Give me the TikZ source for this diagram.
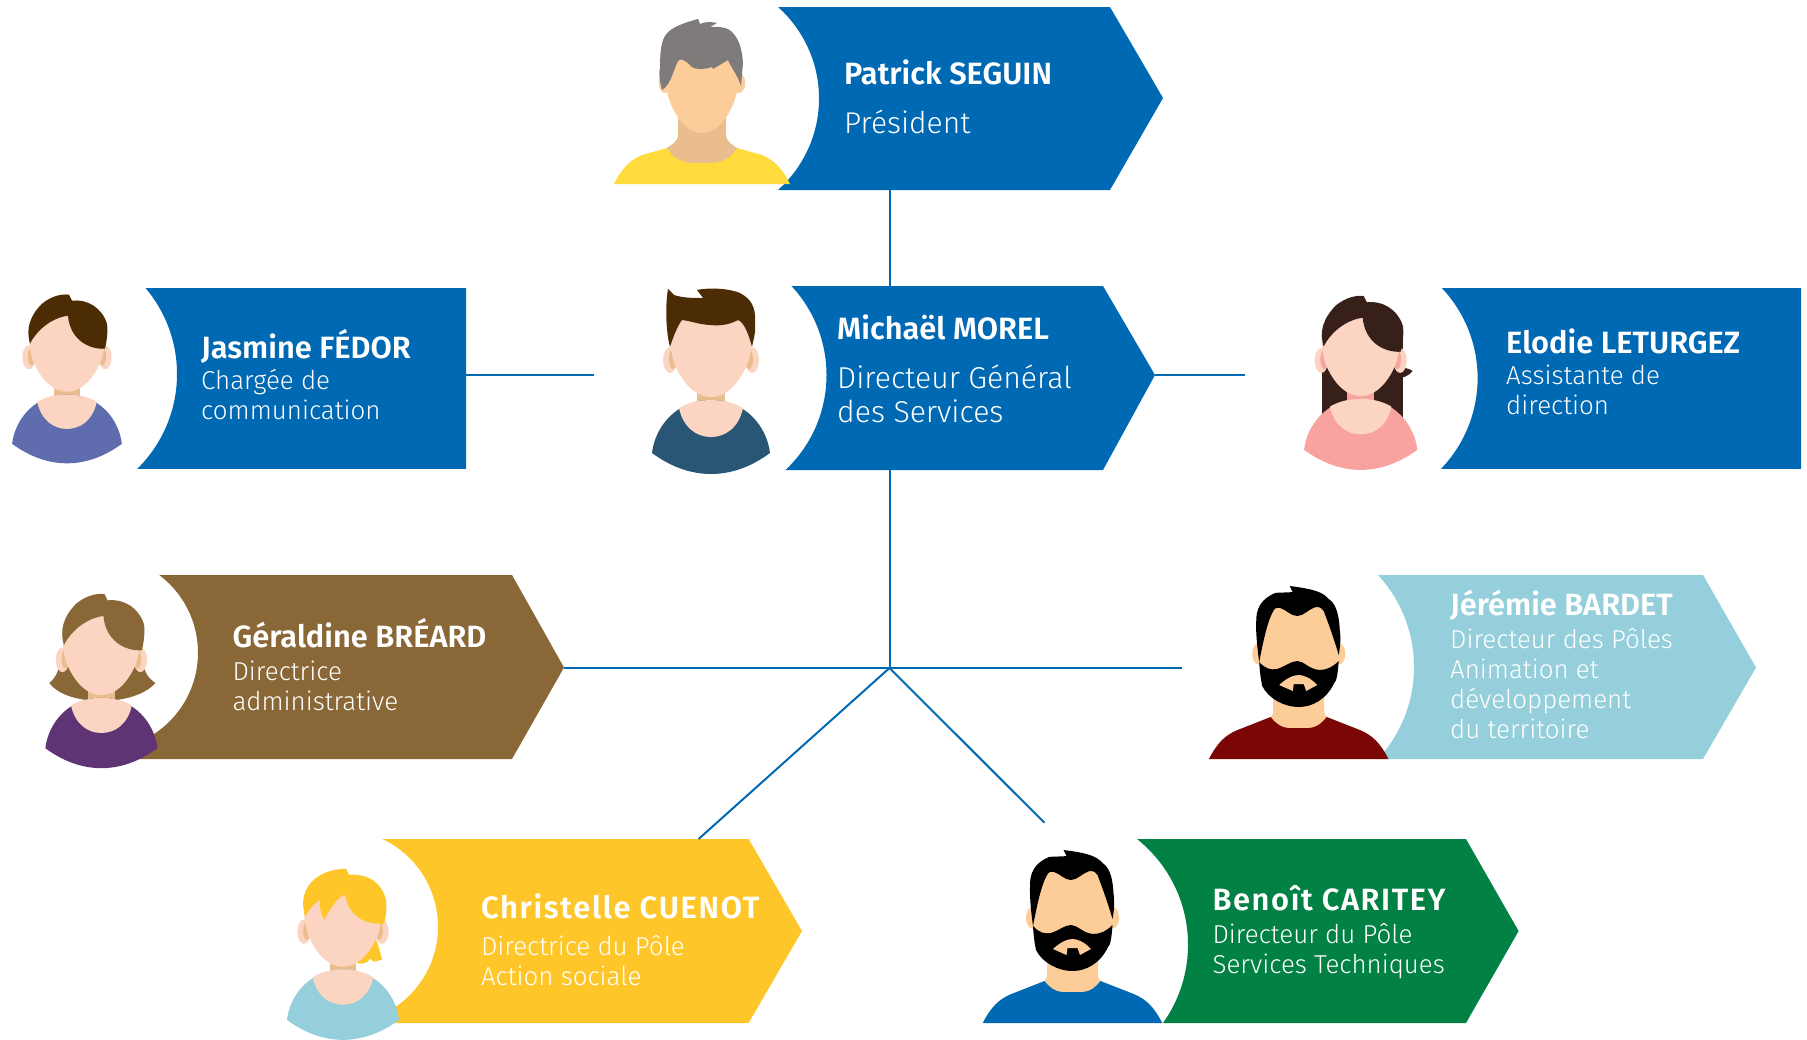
\documentclass[tikz,border=0pt]{standalone}
\usepackage{fontspec}
\setmainfont{Fira Sans}
\newfontfamily\namefam{Fira Sans SemiBold}
\newfontfamily\jobfam{Fira Sans Light}
\definecolor{corpblue}{HTML}{0069B4}
\definecolor{corpbrown}{HTML}{8A6737}
\definecolor{corpteal}{HTML}{95CFDB}
\definecolor{corpyellow}{HTML}{FFC629}
\definecolor{corpgreen}{HTML}{028145}
\definecolor{corpdark}{HTML}{2A5675}
\definecolor{skinpale}{HTML}{FBD5C1}
\definecolor{skintan}{HTML}{FCCD98}
\definecolor{shadetan}{HTML}{E9BD8E}
\definecolor{hairbrown}{HTML}{4B2C05}
\definecolor{hairdark}{HTML}{38201A}
\definecolor{hairgray}{HTML}{7F7B7A}
\definecolor{shirtblue}{HTML}{5F6DAE}
\definecolor{shirtpink}{HTML}{F9A3A0}
\definecolor{shirtplum}{HTML}{5F3474}
\definecolor{shirtred}{HTML}{7A0605}
\definecolor{shirtyellow}{HTML}{FFDB3B}
\tikzset{
  namelabel/.style={anchor=base west,inner sep=0,text=white,font=\namefam\fontsize{#1}{#1}\selectfont},
  namelabel/.default=30.8,
  joblabel/.style={anchor=base west,inner sep=0,text=white,font=\jobfam\fontsize{#1}{#1}\selectfont},
  joblabel/.default=25.9,
  link/.style={draw=corpblue,line width=2pt}
}
% head outline, chin at the origin
\newcommand\headpath{(0,0) .. controls (-18,0) and (-30,-18) .. (-36,-32) .. controls (-40,-42) and (-41,-55) .. (-41,-65) .. controls (-41,-85) and (-20,-92) .. (0,-92) .. controls (20,-92) and (41,-85) .. (41,-65) .. controls (41,-55) and (40,-42) .. (36,-32) .. controls (30,-18) and (18,0) .. (0,0) -- cycle}
% colour, polygon, centre and radius of the bite
\newcommand\tagbox[4]{%
  \begin{scope}
    \clip #2 -- cycle;
    \fill[#1,even odd rule] (0,0) rectangle (1807,1039) (#3) circle (#4);
  \end{scope}}
% colour, inner colour, height, half height
\newcommand\earpair[4]{%
  \foreach \s in {-1,1} {
    \fill[#1] (\s*41,#3) ellipse [x radius=7,y radius=#4];
    \fill[#2] (\s*38,#3-1) ellipse [x radius=4,y radius=#4-3];
  }}
% scale, shirt, skin, shade; origin at the chin
\newcommand\roundbust[4]{%
  \begin{scope}[scale=#1]
    \fill[#4] (-14,-12) rectangle (14,9);
    \fill[#2] (-59,56) .. controls (-56,30) and (-35,3) .. (0,3) .. controls (35,3) and (56,30) .. (59,56) .. controls (40,70) and (20,77) .. (0,77) .. controls (-20,77) and (-40,70) .. (-59,56) -- cycle;
    \fill[#3] (-32,11) .. controls (-28,30) and (-15,40) .. (0,40) .. controls (15,40) and (28,30) .. (32,11) .. controls (22,5) and (10,3) .. (0,3) .. controls (-10,3) and (-22,5) .. (-32,11) -- cycle;
    \earpair{#3}{#4}{-37}{13}
    \fill[#3] \headpath;
  \end{scope}}
% shirt, neck, neck half width, collar top, collar half width, collar bottom
\newcommand\widebust[6]{%
  \fill[#2] (-#3,-70) -- (#3,-70) -- (#3,-#4-14) .. controls (#3,-#4-5) and (#5-3,-#4-3) .. (#5,-#4) -- (#5,-#6) -- (-#5,-#6) -- (-#5,-#4) .. controls (-#5+3,-#4-3) and (-#3,-#4-5) .. (-#3,-#4-14) -- cycle;
  \fill[#1] (-88,0) .. controls (-80,-16) and (-72,-24) .. (-60,-29) -- (-#5,-#4) .. controls (-#5+10,-#6+2) and (-10,-#6) .. (0,-#6) .. controls (10,-#6) and (#5-10,-#6+2) .. (#5,-#4) -- (60,-29) .. controls (72,-24) and (80,-16) .. (88,0) -- cycle;
  }
% scope options, ear height, ear half height
\newcommand\shortface[3]{%
  \begin{scope}[#1]
    \earpair{skintan}{skintan}{#2}{#3}
    \fill[skintan] \headpath;
  \end{scope}}
\newcommand\beardhead{%
  \shortface{shift={(0,-50)},yscale=1.2,xscale=.97}{-46}{9}
  \fill[black] (-9,-173) -- (-6,-167) .. controls (-12,-166) and (-18,-167) .. (-23.5,-166) .. controls (-38,-160) and (-43,-150) .. (-42.5,-136) .. controls (-43,-125) and (-41,-108) .. (-39.5,-97) .. controls (-36,-115) and (-32,-135) .. (-26.5,-146) .. controls (-24,-152) and (-21,-152) .. (-18.5,-151) .. controls (-12,-149) and (-8,-143) .. (-1.5,-143) .. controls (5,-143) and (10,-150) .. (17,-152) .. controls (21,-152) and (24,-151) .. (25,-148) .. controls (30,-135) and (36,-118) .. (40,-104) .. controls (42,-115) and (42,-122) .. (41,-130) .. controls (40,-148) and (36,-156) .. (30,-160) .. controls (24,-167) and (15,-170) .. (-9,-173) -- cycle;
  \fill[black] (-39.5,-97) .. controls (-33,-90) and (-28,-89) .. (-22,-90) .. controls (-14,-92) and (-8,-98) .. (-1.5,-98) .. controls (5,-98) and (10,-90) .. (20.5,-89) .. controls (28,-89) and (34,-92) .. (40,-98) .. controls (39,-85) and (38,-78) .. (35.5,-76) .. controls (28,-60) and (14,-52) .. (0,-52) .. controls (-14,-52) and (-30,-60) .. (-36.5,-73) .. controls (-38,-80) and (-39,-88) .. (-39.5,-97) -- cycle;
  \fill[skintan] (-19.5,-74) .. controls (-12,-81) and (-5,-84) .. (0,-84) .. controls (5,-84) and (12,-81) .. (18.5,-74) -- (7.5,-68) -- (5,-75) -- (-5,-75) -- (-6,-68) -- cycle;
  }
% fringe shared by the short cuts, origin at the chin
\newcommand\fringepath{(-37,-48) .. controls (-41,-62) and (-38,-75) .. (-25,-88) .. controls (-15,-96) and (-5,-98) .. (2,-97) -- (5,-91) .. controls (20,-93) and (35,-84) .. (40,-68) .. controls (41,-60) and (40,-52) .. (38,-43) .. controls (22,-42) and (3,-52) .. (1,-76) .. controls (-15,-74) and (-30,-62) .. (-37,-48) -- cycle}

\begin{document}
\begin{tikzpicture}[x=1pt,y=-1pt]
  \useasboundingbox (0,0) rectangle (1807,1039);

  \tagbox{corpblue}{(730,7) -- (1110,7) -- (1163,98) -- (1110,190) -- (730,190)}{696.4,98.5}{122.6}
  \tagbox{corpblue}{(720,286) -- (1103,286) -- (1155,375) -- (1103,470) -- (720,470)}{696,375}{130.5}
  \tagbox{corpblue}{(80,288) -- (466,288) -- (466,468) -- (80,468)}{44,374}{133}
  \tagbox{corpblue}{(1400,288) -- (1801,288) -- (1801,468) -- (1400,468)}{1346.6,378}{131}
  \tagbox{corpbrown}{(120,575) -- (512,575) -- (564,667.5) -- (512,759) -- (120,759)}{100.8,652.7}{97.2}
  \tagbox{corpteal}{(1330,575) -- (1703,575) -- (1756,667.5) -- (1703,759) -- (1330,759)}{1278.5,667}{135.5}
  \tagbox{corpyellow}{(360,839) -- (748.6,839) -- (802,931) -- (748.6,1023) -- (360,1023)}{341,926.7}{97}
  \tagbox{corpgreen}{(1100,839) -- (1466,839) -- (1518.6,931) -- (1466,1023) -- (1100,1023)}{1053,944.7}{135}

  % connectors
  \coordinate (hub) at (889.5,668);
  \coordinate (patrick foot) at (890,190);
  \coordinate (morel head) at (890,286);
  \coordinate (morel foot) at (889.5,470);
  \coordinate (morel tip) at (1155,374.5);
  \coordinate (elodie end) at (1245,374.5);
  \coordinate (jasmine side) at (466,374.5);
  \coordinate (jasmine end) at (594,374.5);
  \coordinate (geraldine tip) at (564,668);
  \coordinate (jeremie end) at (1182,668);
  \coordinate (christelle top) at (698.6,839);
  \coordinate (benoit end) at (1044.4,822.7);
  \draw[link] (patrick foot) -- (morel head);
  \draw[link] (morel foot) -- (hub);
  \draw[link] (jasmine side) -- (jasmine end);
  \draw[link] (morel tip) -- (elodie end);
  \draw[link] (geraldine tip) -- (hub) -- (jeremie end);
  \draw[link] (christelle top) -- (hub) -- (benoit end);

  % Patrick
  \begin{scope}[shift={(702,184)}]
    \widebust{shirtyellow}{shadetan}{24}{36}{35}{21}
    \shortface{shift={(0,-51)},xscale=.9}{-50}{10}
    \fill[hairgray] (-4,-165) -- (-2,-160) .. controls (5,-163) and (10,-162) .. (15,-161) -- (8,-157) .. controls (20,-158) and (28,-155) .. (30,-152) .. controls (37,-145) and (40,-135) .. (41,-121) -- (39,-98) .. controls (36,-108) and (30,-115) .. (26,-124) -- (11,-115) -- (10,-117) .. controls (2,-114) and (-8,-115) .. (-10,-117) .. controls (-15,-122) and (-20,-126) .. (-23,-124) .. controls (-28,-118) and (-30,-100) .. (-40,-94) .. controls (-43,-105) and (-43,-112) .. (-42,-117) .. controls (-42,-130) and (-41,-138) .. (-39,-144) .. controls (-36,-152) and (-30,-158) .. (-4,-165) -- cycle;
  \end{scope}

  % Michael
  \begin{scope}[shift={(711,397)}]
    \roundbust{1}{corpdark}{skinpale}{shadetan}
    \fill[hairbrown] (-41,-50) .. controls (-45,-65) and (-46,-90) .. (-43,-108) -- (-37,-102) .. controls (-28,-99) and (-18,-99) .. (-8,-99) -- (-14,-107) .. controls (0,-110) and (20,-108) .. (29,-104) .. controls (40,-98) and (45,-90) .. (44,-75) .. controls (45,-65) and (43,-60) .. (41,-50) .. controls (38,-62) and (33,-75) .. (27,-77) .. controls (18,-72) and (8,-71) .. (0,-72) .. controls (-10,-72) and (-20,-76) .. (-29,-77) .. controls (-33,-72) and (-38,-60) .. (-41,-50) -- cycle;
  \end{scope}

  % Jasmine
  \begin{scope}[shift={(67,391.7)}]
    \roundbust{.93}{shirtblue}{skinpale}{shadetan}
    \fill[hairbrown] \fringepath;
  \end{scope}

  % Elodie
  \begin{scope}[shift={(1360.7,396)}]
    \fill[hairdark] (-39,-60) rectangle (42,35);
    \fill[hairdark] (38,-30) .. controls (42,-28) and (48,-28) .. (52,-25) .. controls (48,-20) and (42,-18) .. (38,-18) -- cycle;
    \roundbust{.96}{shirtpink}{skinpale}{shirtpink}
    \fill[hairdark,xshift=1pt,scale=1.03] \fringepath;
  \end{scope}

  % Geraldine
  \begin{scope}[shift={(101.4,695)}]
    \fill[corpbrown] (-40,-40) .. controls (-42,-25) and (-45,-18) .. (-52,-12) .. controls (-45,-2) and (-30,3) .. (-15,5) -- (15,5) .. controls (30,3) and (45,-2) .. (54,-12) .. controls (45,-18) and (42,-25) .. (40,-40) -- cycle;
    \roundbust{.95}{shirtplum}{skinpale}{shadetan}
    \fill[corpbrown,xshift=1pt,scale=1.04] \fringepath;
  \end{scope}

  % Christelle
  \begin{scope}[shift={(343,966.7)}]
    \fill[corpyellow] (32,-30) .. controls (36,-20) and (37,-15) .. (39,-7) -- (31,-5) -- (27,-8) .. controls (25,-3) and (18,-2) .. (12,-4) -- cycle;
    \roundbust{.95}{corpteal}{skinpale}{shadetan}
    \fill[corpyellow] (-38,-50) .. controls (-42,-65) and (-40,-78) .. (-28,-88) .. controls (-18,-96) and (-5,-98) .. (3,-98) -- (6,-92) .. controls (25,-93) and (38,-85) .. (43,-67) .. controls (44,-58) and (43,-50) .. (41,-43) .. controls (22,-42) and (6,-50) .. (2,-72) .. controls (-8,-68) and (-14,-55) .. (-19,-47) .. controls (-22,-53) and (-24,-60) .. (-23,-67) .. controls (-30,-62) and (-35,-56) .. (-38,-50) -- cycle;
  \end{scope}

  % Benoit
  \begin{scope}[shift={(1072.5,1023)}]
    \begin{scope}[xscale=1.02]
      \widebust{corpblue}{skintan}{25}{42}{27.5}{31}
    \end{scope}
    \beardhead
  \end{scope}

  % Jeremie
  \begin{scope}[shift={(1298.7,759)}]
    \begin{scope}[xscale=1.02]
      \widebust{shirtred}{skintan}{25}{42}{27.5}{31}
    \end{scope}
    \beardhead
  \end{scope}

  % texts
  \node[namelabel] (patrick name) at (844,84) {Patrick SEGUIN};
  \node[joblabel=30] (patrick job) at (844,133.3) {Président};
  \node[namelabel] (morel name) at (837,339) {Michaël MOREL};
  \node[joblabel=30.2] (morel job) at (837,388) {Directeur Général};
  \node[joblabel=30.2] (morel job2) at (837,422.5) {des Services};
  \node[namelabel] (jasmine name) at (201,358.5) {Jasmine FÉDOR};
  \node[joblabel] (jasmine job) at (201,389) {Chargée de};
  \node[joblabel] (jasmine job2) at (201,419) {communication};
  \node[namelabel] (elodie name) at (1506,353.5) {Elodie LETURGEZ};
  \node[joblabel] (elodie job) at (1506,384.5) {Assistante de};
  \node[joblabel] (elodie job2) at (1506,414.5) {direction};
  \node[namelabel] (geraldine name) at (232.4,647) {Géraldine BRÉARD};
  \node[joblabel] (geraldine job) at (232.4,680) {Directrice};
  \node[joblabel] (geraldine job2) at (232.4,710) {administrative};
  \node[namelabel] (jeremie name) at (1450,615) {Jérémie BARDET};
  \node[joblabel] (jeremie job) at (1450,648.5) {Directeur des Pôles};
  \node[joblabel] (jeremie job2) at (1450,678) {Animation et};
  \node[joblabel] (jeremie job3) at (1450,708) {développement};
  \node[joblabel] (jeremie job4) at (1450,738) {du territoire};
  \node[namelabel] (christelle name) at (480.8,918.3) {\addfontfeature{LetterSpace=5.6}Christelle CUENOT};
  \node[joblabel] (christelle job) at (480.8,955) {Directrice du Pôle};
  \node[joblabel] (christelle job2) at (480.8,985) {Action sociale};
  \node[namelabel] (benoit name) at (1212.4,910) {\addfontfeature{LetterSpace=5.2}Benoît CARITEY};
  \node[joblabel] (benoit job) at (1212.4,943.5) {Directeur du Pôle};
  \node[joblabel] (benoit job2) at (1212.4,973.5) {Services Techniques};
\end{tikzpicture}
\end{document}
